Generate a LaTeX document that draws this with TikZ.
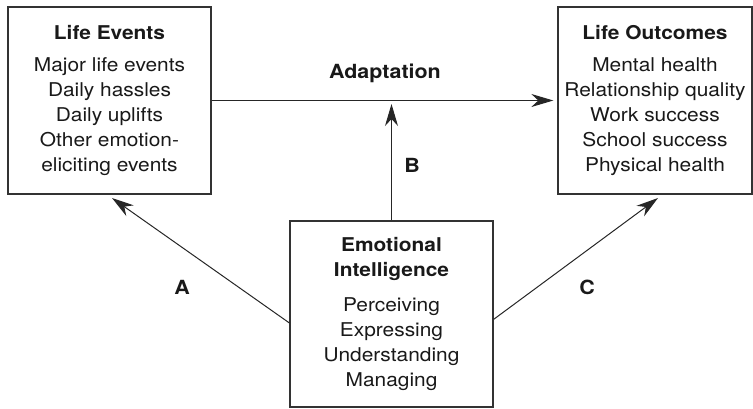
\documentclass[tikz,border=0pt]{standalone}
\usepackage{fontspec}
\setmainfont[FakeStretch=1.1]{TeX Gyre Heros}
\usetikzlibrary{arrows.meta}
\tikzset{
  box/.style={draw=black!80, line width=1.3pt, minimum height=187pt, align=center,
    inner sep=0pt, text=black!90, font=\fontsize{19}{25}\selectfont},
  link/.style={draw=black!85, line width=1pt, -{Stealth[length=22pt,width=13pt,inset=7pt]}},
  lbl/.style={text=black!90, font=\bfseries\fontsize{19.5}{24}\selectfont}
}
\begin{document}
\begin{tikzpicture}[x=1pt,y=-1pt]
  \useasboundingbox (0,0) rectangle (753,408);
  % boxes
  \node[box, minimum width=203pt] (le) at (109.5,100.5)
    {\textbf{Life Events}\\[7pt] Major life events\\ Daily hassles\\ Daily uplifts\\ Other emotion-\\ eliciting events};
  \node[box, minimum width=194pt] (lo) at (655,100.5)
    {\textbf{Life Outcomes}\\[7pt] Mental health\\ Relationship quality\\ Work success\\ School success\\ Physical health};
  \node[box, minimum width=203pt, minimum height=186pt] (ei) at (391.5,314)
    {\textbf{Emotional}\\ \textbf{Intelligence}\\[10pt] Perceiving\\ Expressing\\ Understanding\\ Managing};
  % arrow ends
  \coordinate (aEnd) at (112,198);
  \coordinate (bEnd) at (391.5,104);
  \coordinate (cEnd) at (658,198);
  % arrows
  \draw[link, shorten >=4pt] (le.east) -- (lo.west);
  \draw[link] (ei.north) -- (bEnd);
  \draw[link] (ei.185) -- (aEnd);
  \draw[link] (ei.-3.5) -- (cEnd);
  % labels
  \node[lbl] (adapt) at (385,73) {Adaptation};
  \node[lbl] (labB) at (412,165) {B};
  \node[lbl] (labA) at (182,287) {A};
  \node[lbl] (labC) at (587,287) {C};
\end{tikzpicture}
\end{document}
